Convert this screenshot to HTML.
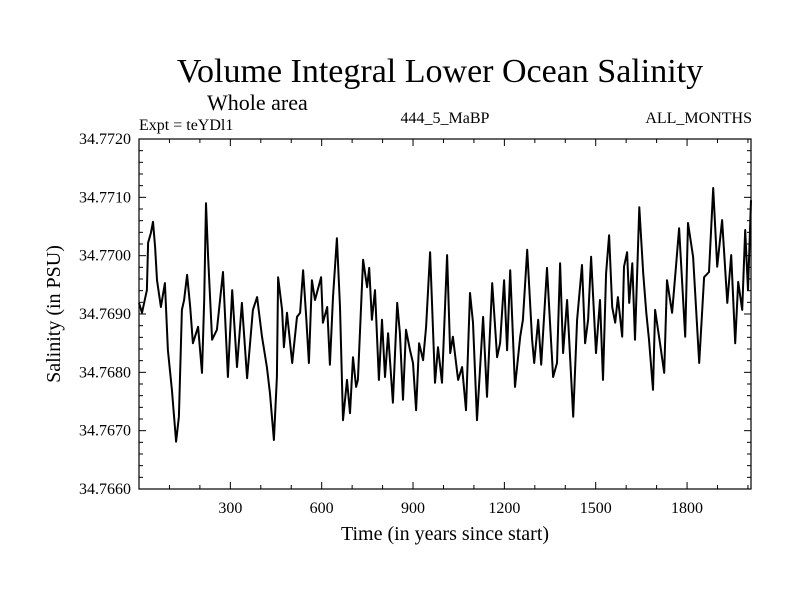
<!DOCTYPE html>
<html><head><meta charset="utf-8">
<style>
body{margin:0;background:#fff;}
svg text{font-family:"Liberation Serif",serif;fill:#000;}
</style></head>
<body>
<svg id="chart" width="800" height="600" viewBox="0 0 800 600" xmlns="http://www.w3.org/2000/svg">
<rect width="800" height="600" fill="#fff"/>
<text x="440" y="82" font-size="34" text-anchor="middle">Volume Integral Lower Ocean Salinity</text>
<text x="207" y="110" font-size="22">Whole area</text>
<text x="139" y="130" font-size="16">Expt = teYDl1</text>
<text x="445" y="123" font-size="16" text-anchor="middle">444_5_MaBP</text>
<text x="752" y="123" font-size="16" text-anchor="end">ALL_MONTHS</text>
<g id="axes"></g>
<path id="line" fill="none" stroke="#000" stroke-width="2" stroke-linejoin="round"/>
<rect x="139" y="139" width="612" height="350" fill="none" stroke="#000" stroke-width="1.2"/>
<text x="445" y="540" font-size="20" text-anchor="middle">Time (in years since start)</text>
<text x="0" y="0" font-size="20" text-anchor="middle" transform="translate(60,314) rotate(-90)">Salinity (in PSU)</text>
</svg>
<script>
const years=[0,10,26,30,39,46,53,59,72,85,95,108,122,131,141,148,158,168,177,194,207,214,220,227,240,256,276,292,306,322,338,355,374,388,404,420,430,443,453,457,470,476,486,503,519,529,539,549,558,568,578,598,604,618,627,637,650,660,670,683,693,703,713,719,736,749,756,765,775,788,798,808,818,834,848,857,867,877,890,900,910,920,933,943,956,972,982,995,1012,1022,1031,1048,1061,1074,1087,1097,1110,1130,1143,1160,1176,1186,1199,1209,1219,1235,1252,1261,1275,1291,1298,1311,1321,1340,1350,1360,1373,1383,1393,1406,1426,1439,1455,1465,1475,1485,1501,1514,1524,1534,1544,1554,1564,1573,1587,1593,1603,1610,1620,1629,1643,1656,1666,1675,1688,1695,1711,1725,1734,1751,1764,1774,1794,1803,1820,1840,1856,1872,1886,1899,1915,1932,1945,1958,1968,1981,1991,2000,2010];
const salinity=[34.76919,34.76902,34.76941,34.77022,34.77039,34.77058,34.77015,34.76958,34.76912,34.76953,34.76838,34.76770,34.76681,34.76724,34.76907,34.76924,34.76967,34.76912,34.76850,34.76878,34.76799,34.76924,34.77090,34.76998,34.76856,34.76873,34.76972,34.76792,34.76941,34.76809,34.76919,34.76790,34.76907,34.76929,34.76861,34.76809,34.76765,34.76684,34.76792,34.76963,34.76907,34.76843,34.76902,34.76816,34.76895,34.76902,34.76975,34.76895,34.76816,34.76958,34.76924,34.76963,34.76885,34.76912,34.76813,34.76929,34.77030,34.76912,34.76718,34.76787,34.76730,34.76826,34.76775,34.76787,34.76993,34.76946,34.76979,34.76890,34.76941,34.76787,34.76890,34.76792,34.76867,34.76748,34.76919,34.76867,34.76753,34.76873,34.76838,34.76816,34.76735,34.76850,34.76821,34.76878,34.77006,34.76782,34.76843,34.76782,34.77001,34.76833,34.76861,34.76787,34.76809,34.76735,34.76936,34.76885,34.76718,34.76895,34.76758,34.76953,34.76826,34.76850,34.76958,34.76838,34.76975,34.76775,34.76861,34.76890,34.77010,34.76856,34.76816,34.76890,34.76813,34.76979,34.76885,34.76792,34.76816,34.76987,34.76833,34.76924,34.76724,34.76890,34.76984,34.76850,34.76890,34.76998,34.76833,34.76924,34.76787,34.76970,34.77035,34.76912,34.76885,34.76929,34.76861,34.76981,34.77006,34.76919,34.76987,34.76856,34.77083,34.76970,34.76902,34.76856,34.76770,34.76907,34.76850,34.76799,34.76958,34.76902,34.76984,34.77047,34.76861,34.77056,34.76998,34.76816,34.76963,34.76972,34.77116,34.76981,34.77061,34.76919,34.77001,34.76850,34.76955,34.76907,34.77044,34.76941,34.77095];
const xTickValues=[300,600,900,1200,1500,1800];
const xTickLabels=["300","600","900","1200","1500","1800"];
const yTickValues=[34.766,34.767,34.768,34.769,34.770,34.771,34.772];
const yTickLabels=["34.7660","34.7670","34.7680","34.7690","34.7700","34.7710","34.7720"];

const L=139,R=751,T=139,B=489,X0=0,X1=2010,Y0=34.766,Y1=34.772;
const xs=v=>L+(v-X0)/(X1-X0)*(R-L);
const ys=v=>B-(v-Y0)/(Y1-Y0)*(B-T);
const NS='http://www.w3.org/2000/svg';
const axes=document.getElementById('axes');
function ln(x1,y1,x2,y2,name){
  const e=document.createElementNS(NS,'line');
  e.setAttribute('x1',x1);e.setAttribute('y1',y1);e.setAttribute('x2',x2);e.setAttribute('y2',y2);
  e.setAttribute('stroke','#000');e.setAttribute('stroke-width','1');
  
  
  axes.appendChild(e);
}
function tx(x,y,s,anchor,name){
  const e=document.createElementNS(NS,'text');
  e.setAttribute('x',x);e.setAttribute('y',y);e.setAttribute('font-size','16');e.setAttribute('text-anchor',anchor);
  e.textContent=s;
  
  
  axes.appendChild(e);
}
for(let v=100;v<X1;v+=100){
  const x=xs(v);const major=v%300===0;const len=major?7:4;
  ln(x,B,x,B-len,'x-tick');ln(x,T,x,T+len,'x-tick-top');
}
xTickValues.forEach((v,i)=>tx(xs(v),513,xTickLabels[i],'middle','x-tick-label'));
for(let k=0;k<=30;k++){
  const v=Y0+k*0.0002;const y=ys(v);const major=k%5===0;const len=major?7:4;
  ln(L,y,L+len,y,'y-tick');ln(R,y,R-len,y,'y-tick-right');
}
yTickValues.forEach((v,i)=>tx(131,ys(v)+5,yTickLabels[i],'end','y-tick-label'));
let d='';
years.forEach((v,i)=>{d+=(i?'L':'M')+xs(v).toFixed(1)+','+ys(salinity[i]).toFixed(1);});
document.getElementById('line').setAttribute('d',d);
</script>
</body></html>
